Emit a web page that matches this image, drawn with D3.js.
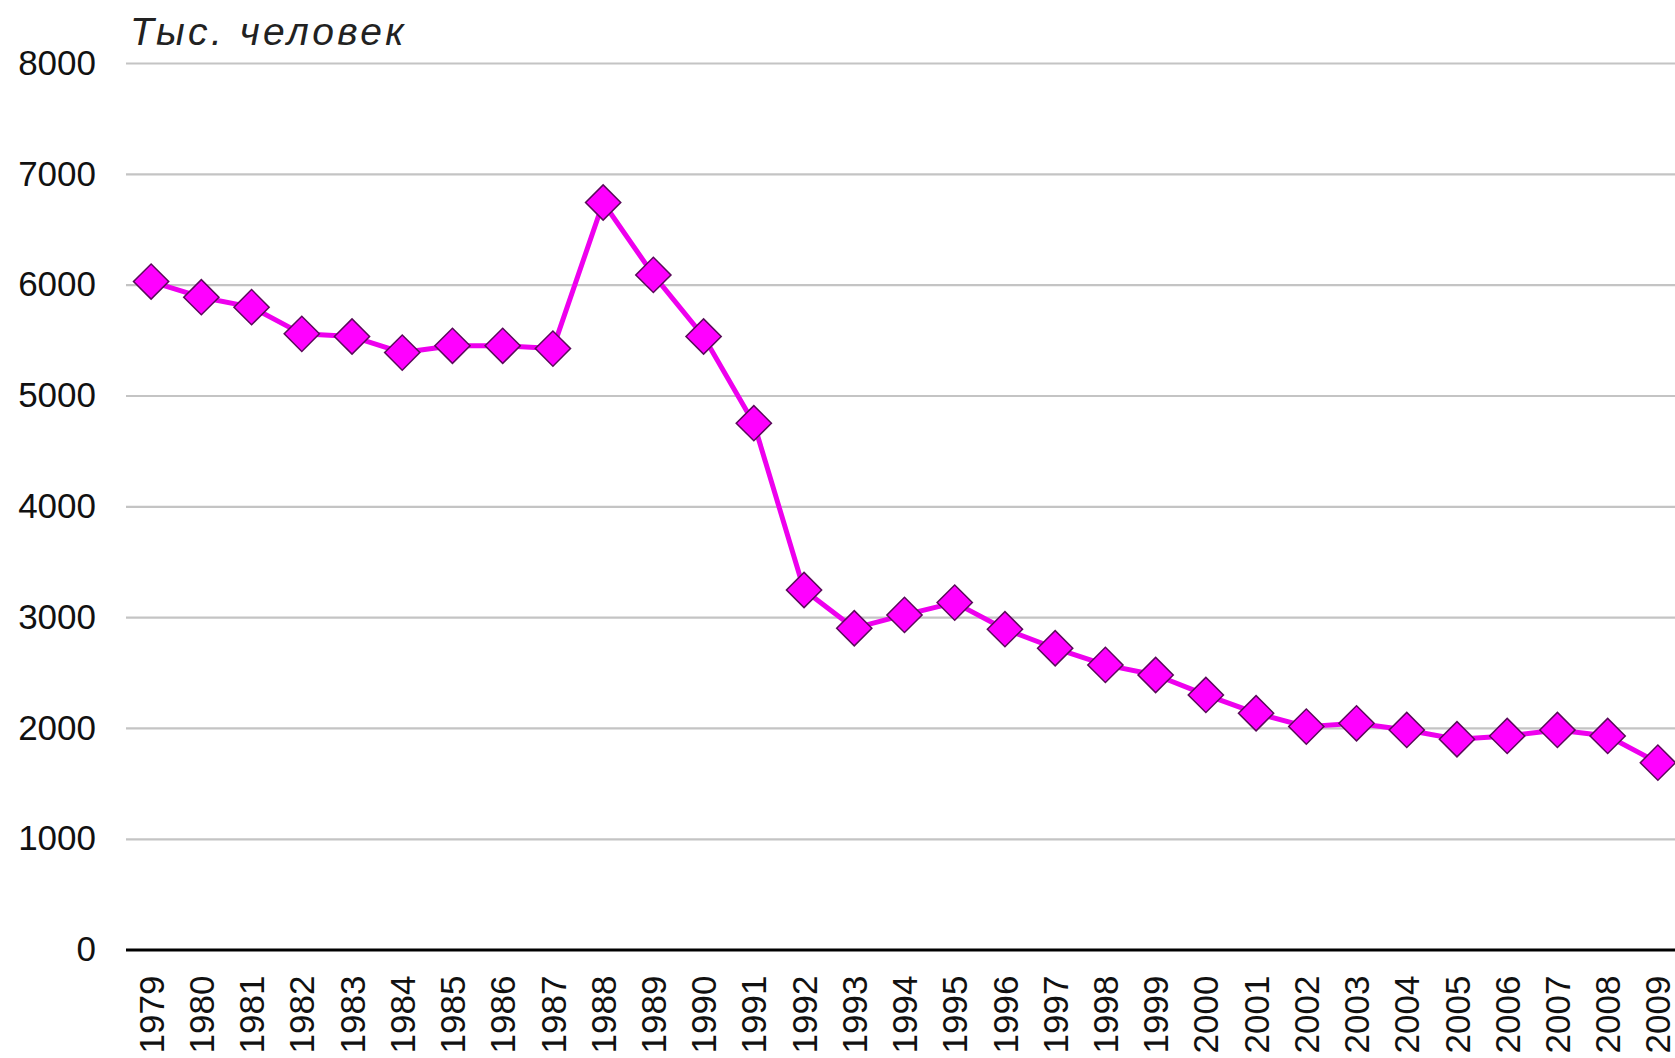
<!DOCTYPE html>
<html>
<head>
<meta charset="utf-8">
<script src="https://cdn.jsdelivr.net/npm/d3@7"></script>
<style>
  body { margin: 0; background: #fff; }
  svg { display: block; }
  .tick text { font-family: "Liberation Sans", Arial, sans-serif; fill: #111; }
</style>
</head>
<body>
<svg id="svg" width="1675" height="1058"></svg>
<script>
// data
const years = ['1979','1980','1981','1982','1983','1984','1985','1986','1987','1988',
  '1989','1990','1991','1992','1993','1994','1995','1996','1997','1998','1999','2000',
  '2001','2002','2003','2004','2005','2006','2007','2008','2009'];
const values = [6028, 5887, 5797, 5556, 5532, 5387, 5448, 5448, 5423, 6741,
  6088, 5532, 4750, 3245, 2900, 3020, 3131, 2891, 2719, 2569, 2478, 2298,
  2133, 2012, 2042, 1982, 1898, 1928, 1982, 1928, 1687];
const yTicks = [0, 1000, 2000, 3000, 4000, 5000, 6000, 7000, 8000];
const unitLabel = 'Тыс. человек';

const svg = d3.select('#svg');

// plot area runs off the right edge, like the original
const plotLeft = 126, plotRight = 1683, plotTop = 63, plotBottom = 949.6;

const x = d3.scaleBand().domain(years).range([plotLeft, plotRight]);
const y = d3.scaleLinear().domain([0, 8000]).range([plotBottom, plotTop]);

// gridlines + y labels
const yAxis = svg.append('g')
  .attr('transform', `translate(${plotLeft},0)`)
  .call(d3.axisLeft(y).tickValues(yTicks).tickFormat(d3.format('d'))
    .tickSize(-(plotRight - plotLeft)).tickPadding(30));
yAxis.select('.domain').remove();
yAxis.selectAll('.tick line')
  .attr('stroke', (d) => d === 0 ? '#000' : '#c4c4c4')
  .attr('stroke-width', (d) => d === 0 ? 3 : 2.2);
yAxis.selectAll('.tick text')
  .attr('font-size', 35)
  .attr('x', -30);

// year labels, rotated
const xAxis = svg.append('g')
  .attr('transform', `translate(0,${plotBottom})`)
  .call(d3.axisBottom(x).tickSize(0));
xAxis.select('.domain').remove();
xAxis.selectAll('.tick text')
  .attr('font-size', 35)
  .attr('transform', 'rotate(-90)')
  .attr('text-anchor', 'end')
  .attr('x', -26)
  .attr('y', 0)
  .attr('dy', '0.36em');

// unit caption
svg.append('text')
  .attr('x', 130)
  .attr('y', 45)
  .attr('font-family', '"Liberation Sans", Arial, sans-serif')
  .attr('font-style', 'italic')
  .attr('font-size', 39)
  .attr('letter-spacing', 3.4)
  .attr('fill', '#222')
  .text(unitLabel);

const cx = (d, i) => x(years[i]) + x.bandwidth() / 2;

const line = d3.line()
  .x(cx)
  .y((d) => y(d));

svg.append('path')
  .datum(values)
  .attr('fill', 'none')
  .attr('stroke', '#ee00ee')
  .attr('stroke-width', 5)
  .attr('stroke-linejoin', 'round')
  .attr('d', line);

const diamond = d3.symbol().type(d3.symbolSquare).size(620);

svg.selectAll('path.marker')
  .data(values)
  .enter().append('path')
  .attr('class', 'marker')
  .attr('d', diamond)
  .attr('transform', (d, i) => `translate(${cx(d, i)},${y(d)}) rotate(45)`)
  .attr('fill', '#ff00ff')
  .attr('stroke', '#5a0a5a')
  .attr('stroke-width', 1.5);
</script>
</body>
</html>
